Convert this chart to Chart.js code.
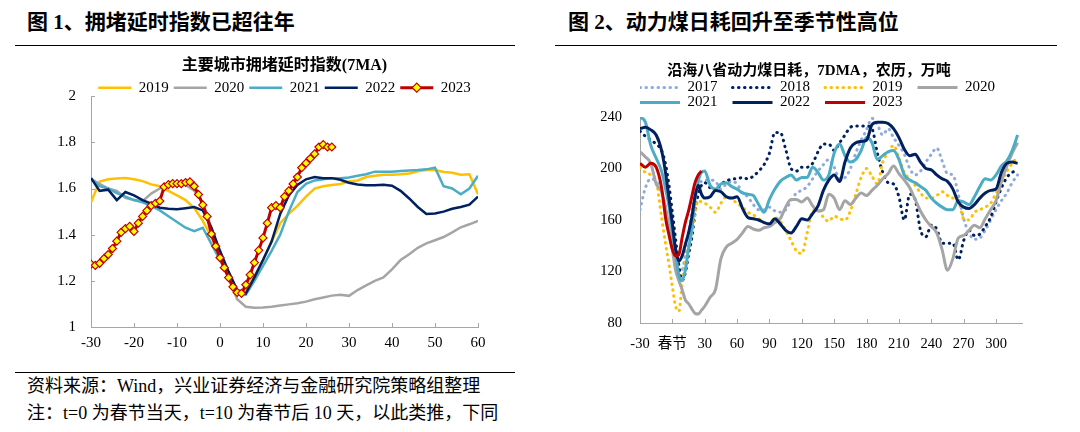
<!DOCTYPE html>
<html lang="zh-CN">
<head>
<meta charset="UTF-8" />
<title>拥堵延时指数 / 动力煤日耗</title>
<script src="https://cdn.jsdelivr.net/npm/chart.js"></script>
<style>
  body { margin: 0; background: #fff; width: 1080px; height: 432px; position: relative; overflow: hidden;
         font-family: "Liberation Serif", "Noto Sans CJK SC", serif; color: #000; }
  .head { position: absolute; top: 12px; font-size: 21px; line-height: 1; font-weight: bold; white-space: nowrap; }
  .rule { position: absolute; height: 0; border-top: 1.5px solid #000; }
  .note { position: absolute; left: 27px; font-size: 18px; line-height: 1; white-space: nowrap; }
  canvas { position: absolute; }
</style>
</head>
<body>
  <div class="head" style="left:27px">图 1、拥堵延时指数已超往年</div>
  <div class="head" style="left:568px">图 2、动力煤日耗回升至季节性高位</div>
  <div class="rule" style="left:15px; width:500px; top:45px"></div>
  <div class="rule" style="left:555px; width:502px; top:45px"></div>

  <canvas id="jamChart" width="515" height="315" style="left:20px; top:48px"></canvas>
  <canvas id="coalChart" width="428" height="320" style="left:595px; top:48px"></canvas>

  <div class="rule" style="left:15px; width:500px; top:372px; border-top-width:1px"></div>
  <div class="note" style="top:377px">资料来源：Wind，兴业证券经济与金融研究院策略组整理</div>
  <div class="note" style="top:404px">注：t=0 为春节当天，t=10 为春节后 10 天，以此类推，下同</div>

<script>
  const serif = '"Liberation Serif", "Noto Sans CJK SC", serif';
  const axisGrey = '#A6A6A6';
  const c2017 = '#8FAADC', c2018 = '#002060', c2019 = '#FFC000', c2020 = '#A5A5A5',
        c2021 = '#4BACC6', c2022 = '#002060', c2023 = '#C00000';

  // ---- 图1：主要城市拥堵延时指数(7MA)，t = 距春节天数
  const jamDays = [-30,-28,-26,-24,-22,-20,-18,-16,-14,-12,
                   -10,-8,-6,-4,-2,0,2,4,6,8,
                   10,12,14,16,18,20,22,24,26,28,
                   30,32,34,36,38,40,42,44,46,48,
                   50,52,54,56,58,60];
  const jam2019 = [1.54,1.63,1.64,1.643,1.646,1.64,1.632,1.618,1.61,1.59,
                   1.57,1.55,1.515,1.46,1.39,1.31,1.22,1.155,1.16,1.22,
                   1.29,1.37,1.45,1.49,1.525,1.565,1.60,1.61,1.615,1.62,
                   1.63,1.635,1.65,1.655,1.66,1.66,1.662,1.665,1.675,1.68,
                   1.68,1.672,1.668,1.66,1.662,1.575];
  const jam2020 = [1.64,1.62,1.60,1.59,1.56,1.55,1.545,1.578,1.60,1.62,
                   1.625,1.615,1.59,1.54,1.43,1.32,1.21,1.12,1.088,1.083,
                   1.085,1.088,1.093,1.098,1.103,1.11,1.12,1.128,1.136,1.14,
                   1.135,1.16,1.18,1.20,1.215,1.25,1.29,1.315,1.343,1.362,
                   1.376,1.39,1.41,1.432,1.445,1.46];
  const jam2021 = [1.645,1.61,1.60,1.58,1.565,1.55,1.54,1.525,1.505,1.48,
                   1.455,1.43,1.415,1.43,1.36,1.29,1.215,1.15,1.14,1.20,
                   1.265,1.33,1.40,1.50,1.585,1.62,1.635,1.64,1.645,1.645,
                   1.648,1.655,1.662,1.673,1.673,1.673,1.676,1.678,1.68,1.683,
                   1.69,1.61,1.60,1.575,1.60,1.655];
  const jam2022 = [1.645,1.59,1.595,1.55,1.585,1.57,1.55,1.535,1.517,1.512,
                   1.51,1.515,1.52,1.505,1.43,1.33,1.24,1.16,1.145,1.215,
                   1.29,1.37,1.49,1.57,1.615,1.64,1.65,1.645,1.645,1.638,
                   1.625,1.617,1.614,1.614,1.616,1.612,1.59,1.557,1.52,1.49,
                   1.492,1.50,1.512,1.52,1.53,1.565];
  const jam2023Days = [-30,-29,-28,-27,-26,-25,-24,-23,-22,-21,
                       -20,-19,-18,-17,-16,-15,-14,-13,-12,-11,
                       -10,-9,-8,-7,-6,-5,-4,-3,-2,-1,
                       0,1,2,3,4,5,6,7,8,9,
                       10,11,12,13,14,15,16,17,18,19,
                       20,21,22,23,24,25,26];
  const jam2023 = [1.272,1.267,1.276,1.296,1.314,1.34,1.372,1.41,1.426,1.436,
                   1.414,1.45,1.479,1.504,1.526,1.536,1.546,1.607,1.617,1.621,
                   1.621,1.621,1.626,1.629,1.61,1.574,1.529,1.479,1.403,1.35,
                   1.30,1.257,1.214,1.174,1.15,1.146,1.183,1.226,1.279,1.332,
                   1.386,1.45,1.517,1.526,1.517,1.565,1.59,1.62,1.65,1.69,
                   1.71,1.73,1.75,1.78,1.79,1.78,1.78];

  // ---- 图2：沿海八省动力煤日耗，7DMA，农历，万吨
  const coalDays = [-30,-25,-20,-15,-10,-6,-3,0,3,6,9,12,15,18,21,24,27,30,
                    35,40,45,50,55,60,65,70,75,80,
                    85,90,95,100,105,110,115,120,125,130,
                    135,140,145,150,155,160,165,170,175,180,
                    185,190,195,200,205,210,215,220,225,230,
                    235,240,245,250,255,260,265,270,275,280,
                    285,290,295,300,305,310,315,320];
  const coalTicks = [-30,0,30,60,90,120,150,180,210,240,270,300];
  const coal2017 = [168,185,192,190,182,168,152,140,128,120,121,133,150,166,180,188,190,191,
                    191,190,184,188,190,188,181,178,172,168,
                    168,170,167,166,168,175,181,183,186,192,
                    198,203,207,201,192,193,200,212,222,230,
                    239,234,226,231,224,218,211,200,195,198,
                    205,211,216,206,196,195,180,161,150,145,
                    146,152,160,168,175,181,189,195];
  const coal2018 = [229,225,222,219,214,202,186,166,145,125,113,119,133,146,165,180,187,189,
                    185,183,188,190,192,192,193,192,194,198,
                    203,212,228,228,215,200,198,201,201,204,
                    213,219,219,214,220,226,232,233,233,233,
                    231,212,197,189,188,178,160,180,176,152,
                    147,156,153,142,142,142,129,144,152,148,
                    149,155,162,174,185,193,197,198];
  const coal2019 = [201,197,195,190,162,140,125,108,93,89,110,128,138,150,166,175,174,173,
                    170,166,173,178,176,173,170,166,164,161,
                    158,156,162,159,152,144,136,134,150,167,
                    168,162,159,163,161,160,167,180,193,200,
                    194,188,205,212,218,208,197,192,187,181,
                    177,177,179,182,179,177,175,161,160,166,
                    168,170,173,181,190,198,204,209];
  const coal2020 = [213,209,204,188,182,168,152,137,121,113,106,98,95,91,87.5,87,90,93,
                    100,106,130,139,142,145,150,155,153,152,
                    154,155,158,161,170,176,176,174,177,171,
                    167,168,180,177,168,175,172,177,181,179,
                    183,187,192,196,202,196,191,185,176,167,
                    160,155,150,137,121,130,146,148,152,156,
                    154,161,168,175,190,202,212,220];
  const coal2021 = [240,236,218,208,198,183,170,150,134,117,113,121,138,152,176,190,197,198,
                    187,184,188,189,186,184,181,180,179,172,
                    166,176,184,190,193,195,191,193,193,201,
                    197,191,195,212,219,210,205,207,214,224,
                    220,207,210,213,214,207,195,191,189,186,
                    183,177,173,170,168,168,175,174,172,178,
                    186,192,191,195,202,206,214,226];
  const coal2022 = [231,232,230,226,214,195,176,157,137,128,132,141,150,162,178,187,180,177,
                    178,183,182,178,177,178,169,162,161,160,
                    158,157,161,157,152,150,155,161,160,165,
                    171,183,191,195,190,205,216,220,221,222,
                    234,236,236,235,231,224,215,210,211,205,
                    200,199,195,192,190,184,174,170,169,172,
                    177,181,183,184,197,204,205,204];
  const coal2023 = [204,201,204,201,185,160,148,137,132,133,146,158,167,178,189,195,198];

  const pts = (xs, ys) => ys.map((y, i) => ({ x: xs[i], y }));

  Chart.defaults.font.family = serif;
  Chart.defaults.color = '#000';

  // tick marks drawn inward from the axes, like the source chart
  const innerTicks = {
    id: 'innerTicks',
    afterDraw(chart, args, opts) {
      const { ctx, chartArea: area, scales: { x, y } } = chart;
      ctx.save();
      ctx.strokeStyle = axisGrey;
      ctx.lineWidth = 1;
      ctx.beginPath();
      x.ticks.forEach(t => {
        const px = Math.round(x.getPixelForValue(t.value)) + 0.5;
        ctx.moveTo(px, area.bottom);
        ctx.lineTo(px, area.bottom - 4);
      });
      if (opts.yTicks) {
        y.ticks.forEach(t => {
          const py = Math.round(y.getPixelForValue(t.value)) + 0.5;
          ctx.moveTo(area.left, py);
          ctx.lineTo(area.left + 4, py);
        });
      }
      ctx.stroke();
      ctx.restore();
    }
  };

  // legend entries as plain line samples (keeps dotted styles)
  function lineLegend(gap) {
    return chart => chart.data.datasets.map((ds, i) => ({
      text: ds.label + gap,
      strokeStyle: ds.borderColor,
      fillStyle: ds.borderColor,
      lineWidth: ds.borderWidth,
      lineDash: ds.borderDash || [],
      lineCap: ds.borderCapStyle || 'butt',
      pointStyle: 'line',
      fontColor: '#000',
      hidden: false,
      datasetIndex: i
    }));
  }

  // the 2023 legend sample also carries its diamond marker
  const legendDiamond = {
    id: 'legendDiamond',
    afterDraw(chart) {
      const box = chart.legend.legendHitBoxes[4];
      if (!box) return;
      const ctx = chart.ctx, r = 4.5;
      const cx = box.left + 33 / 2, cy = box.top + 15 / 2;
      ctx.save();
      ctx.beginPath();
      ctx.moveTo(cx - r, cy); ctx.lineTo(cx, cy - r); ctx.lineTo(cx + r, cy); ctx.lineTo(cx, cy + r);
      ctx.closePath();
      ctx.fillStyle = '#FFFF00';
      ctx.fill();
      ctx.lineWidth = 1.2;
      ctx.strokeStyle = c2023;
      ctx.stroke();
      ctx.restore();
    }
  };

  new Chart(document.getElementById('jamChart'), {
    type: 'line',
    data: {
      datasets: [
        { label: '2019', data: pts(jamDays, jam2019), borderColor: c2019, borderWidth: 2.5, order: 4 },
        { label: '2020', data: pts(jamDays, jam2020), borderColor: c2020, borderWidth: 2.5, order: 3 },
        { label: '2021', data: pts(jamDays, jam2021), borderColor: c2021, borderWidth: 2.5, order: 2 },
        { label: '2022', data: pts(jamDays, jam2022), borderColor: c2022, borderWidth: 2.5, order: 1 },
        { label: '2023', data: pts(jam2023Days, jam2023), borderColor: c2023, borderWidth: 3, order: 0,
          pointRadius: 4, pointStyle: 'rectRot', pointBackgroundColor: '#FFFF00',
          pointBorderColor: c2023, pointBorderWidth: 1.2 }
      ]
    },
    options: {
      responsive: false,
      animation: false,
      events: [],
      layout: { padding: { right: 57 } },
      elements: { point: { radius: 0 }, line: { tension: 0, fill: false } },
      scales: {
        x: {
          type: 'linear', min: -30, max: 60,
          ticks: { stepSize: 10, autoSkip: false, maxRotation: 0, padding: 7, font: { size: 15 } },
          grid: { display: false, drawTicks: false },
          border: { color: axisGrey, width: 1 },
          afterFit: s => { s.height = 36; }
        },
        y: {
          min: 1, max: 2,
          ticks: { stepSize: 0.2, padding: 15, font: { size: 15 }, callback: v => String(+v.toFixed(1)) },
          grid: { display: false, drawTicks: false },
          border: { color: axisGrey, width: 1 },
          afterFit: s => { s.width = 71; }
        }
      },
      plugins: {
        title: {
          display: true, text: '主要城市拥堵延时指数(7MA)', fullSize: false, color: '#000',
          font: { size: 16, weight: 'bold' }, padding: { top: 8, bottom: 0 }
        },
        legend: {
          fullSize: false, maxHeight: 21,
          labels: { usePointStyle: true, pointStyleWidth: 33, padding: 5, font: { size: 15 },
                    generateLabels: lineLegend('') }
        },
        tooltip: { enabled: false },
        innerTicks: { yTicks: true }
      }
    },
    plugins: [innerTicks, legendDiamond]
  });

  const dotted = { borderDash: [0.5, 5.5], borderCapStyle: 'round', borderWidth: 3 };

  new Chart(document.getElementById('coalChart'), {
    type: 'line',
    data: {
      datasets: [
        { label: '2017', data: pts(coalDays, coal2017), borderColor: c2017, ...dotted, order: 6 },
        { label: '2018', data: pts(coalDays, coal2018), borderColor: c2018, ...dotted, order: 5 },
        { label: '2019', data: pts(coalDays, coal2019), borderColor: c2019, ...dotted, order: 4 },
        { label: '2020', data: pts(coalDays, coal2020), borderColor: c2020, borderWidth: 3, order: 3 },
        { label: '2021', data: pts(coalDays, coal2021), borderColor: c2021, borderWidth: 3, order: 2 },
        { label: '2022', data: pts(coalDays, coal2022), borderColor: c2022, borderWidth: 3, order: 1 },
        { label: '2023', data: pts(coalDays, coal2023), borderColor: c2023, borderWidth: 3, order: 0 }
      ]
    },
    options: {
      responsive: false,
      animation: false,
      events: [],
      elements: { point: { radius: 0 }, line: { cubicInterpolationMode: 'monotone', fill: false } },
      scales: {
        x: {
          type: 'linear', min: -30, max: 325,
          afterBuildTicks: s => { s.ticks = coalTicks.map(v => ({ value: v })); },
          ticks: { autoSkip: false, maxRotation: 0, padding: 12, font: { size: 14.5 },
                   callback: v => (v === 0 ? '春节' : String(v)) },
          grid: { display: false, drawTicks: false },
          border: { color: axisGrey, width: 1 },
          afterFit: s => { s.height = 45; }
        },
        y: {
          min: 80, max: 240,
          ticks: { stepSize: 40, padding: 18, font: { size: 14.5 } },
          grid: { display: false, drawTicks: false },
          border: { color: axisGrey, width: 1 },
          afterFit: s => { s.width = 45; }
        }
      },
      plugins: {
        title: {
          display: true, text: '沿海八省动力煤日耗，7DMA，农历，万吨', color: '#000',
          font: { size: 15, weight: 'bold' }, padding: { top: 14, bottom: 0 }
        },
        legend: {
          fullSize: false, align: 'start', maxHeight: 37,
          labels: { usePointStyle: true, pointStyleWidth: 40, padding: 0, font: { size: 15 },
                    generateLabels: lineLegend('    ') }
        },
        tooltip: { enabled: false },
        innerTicks: { yTicks: false }
      }
    },
    plugins: [innerTicks]
  });
</script>
</body>
</html>
